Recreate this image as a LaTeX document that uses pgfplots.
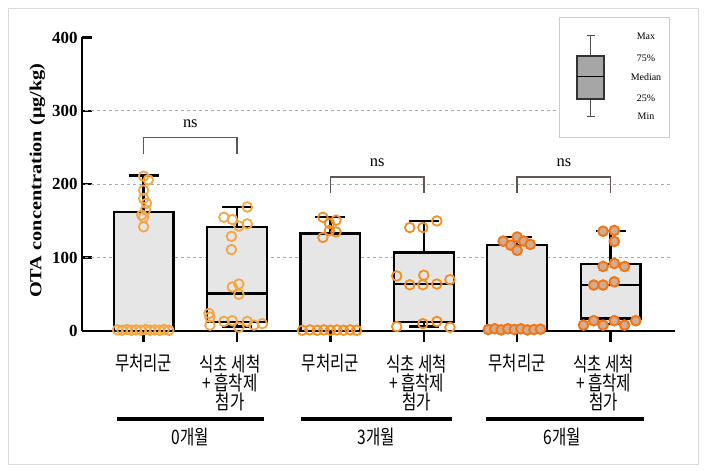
\documentclass[border=0pt]{standalone}
\usepackage{fontspec}
\setmainfont{Liberation Serif}
\newfontfamily\kr{Noto Sans CJK KR}
\usepackage{pgfplots}
\usepackage{pgfplotstable}
\pgfplotsset{compat=1.18}
\definecolor{boxgray}{HTML}{E6E6E6}
\definecolor{orA}{RGB}{246,166,66}
\definecolor{orB}{RGB}{243,144,32}
\definecolor{orC}{RGB}{240,118,24}
\definecolor{orCfill}{RGB}{210,172,145}
\definecolor{brk}{RGB}{100,85,85}
\definecolor{gridc}{RGB}{170,170,170}

% 0 months (groups 0 and 1)
\pgfplotstableread{
x y
0.00 211
0.05 206
0.00 192
0.00 180.5
0.03 174
0.02 165
-0.02 158
0.00 155
0.00 142
-0.28 1.5
-0.23 1
-0.18 2
-0.13 1
-0.08 1.5
-0.03 1
0.02 2
0.07 1
0.12 1.5
0.17 1
0.22 2
0.27 1
1.11 169
0.86 155
0.95 152
1.11 146
1.02 143
0.94 129
0.94 111
1.02 64
0.95 60
1.02 50
0.70 24
0.71 19
0.71 8
0.86 13
0.95 14
1.02 5
1.11 13
1.18 8
1.27 10
}\ptsA
% 3 months (groups 2 and 3)
\pgfplotstableread{
x y
1.92 155
2.06 151
1.99 146.5
2.06 135
1.92 127.5
1.99 137
1.70 1
1.78 1.5
1.86 1
1.93 1.5
2.00 1
2.07 1.5
2.14 1
2.21 1.5
2.28 1
3.14 150
2.85 141
2.99 141
2.71 75
3.00 76
3.28 70
2.85 63
2.99 63
3.14 64
2.71 6
2.99 10
3.14 13
3.28 5
}\ptsB
% 6 months (groups 4 and 5)
\pgfplotstableread{
x y
4.00 128
3.85 122.5
3.93 117
4.07 122.5
4.14 118
4.00 110
3.69 2
3.76 3
3.83 1.5
3.90 3
3.97 2
4.04 3
4.11 1.5
4.18 2
4.25 2.5
4.92 136
5.04 137
5.04 122
4.92 88
5.04 92
5.15 88
4.82 62.6
4.92 62.6
5.04 67
4.71 8
4.82 14
4.92 8
5.04 14
5.15 8
5.27 14
}\ptsC

\begin{document}
\begin{tikzpicture}
\path[use as bounding box] (0bp,0bp) rectangle (720bp,471bp);
\draw[line width=1bp, black!15] (8bp,462bp) rectangle (698bp,6bp);
\begin{axis}[
  at={(82bp,140bp)}, anchor=south west,
  scale only axis, width=593bp, height=293.5bp,
  xmin=-0.66, xmax=5.69, ymin=0, ymax=400,
  clip=false,
  axis lines=left,
  axis line style={-, line width=2.6bp, black},
  xtick={0,1,2,3,4,5},
  xticklabels={무처리군, {식초 세척\rule{18bp}{0pt}\\+ 흡착제\rule{18bp}{0pt}\\첨가\rule{18bp}{0pt}}, 무처리군, {식초 세척\rule{18bp}{0pt}\\+ 흡착제\rule{18bp}{0pt}\\첨가\rule{18bp}{0pt}}, 무처리군, {식초 세척\rule{18bp}{0pt}\\+ 흡착제\rule{18bp}{0pt}\\첨가\rule{18bp}{0pt}}},
  tick align=inside,
  major tick length=10bp,
  tick style={line width=2.4bp, black},
  x tick style={yshift=-11bp},
  ytick={0,100,200,300,400},
  /pgf/number format/assume math mode=true,
  yticklabel style={font=\fontsize{17}{17}\selectfont\bfseries, xshift=-1bp},
  xticklabel style={font=\kr\fontsize{20}{19.5}\selectfont, align=center, anchor=north, xscale=0.78, yshift=-20bp},
  ylabel={OTA concentration (μg/kg)},
  ylabel style={font=\fontsize{17}{17}\selectfont\bfseries, xscale=1.2, xshift=3bp},
  boxst/.style={draw=black, fill=boxgray, line width=2.3bp},
  wst/.style={draw=black, line width=2.3bp},
]
\draw[gridc, dash pattern=on 3bp off 3bp, line width=0.8bp] (axis cs:-0.63,100) -- (axis cs:5.66,100);
\draw[gridc, dash pattern=on 3bp off 3bp, line width=0.8bp] (axis cs:-0.63,200) -- (axis cs:5.66,200);
\draw[gridc, dash pattern=on 3bp off 3bp, line width=0.8bp] (axis cs:-0.63,300) -- (axis cs:5.66,300);
% group 0
\addplot[boxst] coordinates {(-0.32,0) (0.32,0) (0.32,162) (-0.32,162)} --cycle;
\addplot[wst] coordinates {(0,162) (0,212)};
\addplot[wst] coordinates {(-0.16,212) (0.16,212)};
% group 1
\addplot[boxst] coordinates {(0.68,12.6) (1.32,12.6) (1.32,142) (0.68,142)} --cycle;
\addplot[wst] coordinates {(0.68,51) (1.32,51)};
\addplot[wst] coordinates {(1,142) (1,169)};
\addplot[wst] coordinates {(0.84,169) (1.16,169)};
\addplot[wst] coordinates {(1,12.6) (1,6)};
\addplot[wst] coordinates {(0.84,6) (1.16,6)};
% group 2
\addplot[boxst] coordinates {(1.68,0) (2.32,0) (2.32,133) (1.68,133)} --cycle;
\addplot[wst] coordinates {(2,133) (2,155)};
\addplot[wst] coordinates {(1.84,155) (2.16,155)};
% group 3
\addplot[boxst] coordinates {(2.68,12) (3.32,12) (3.32,107) (2.68,107)} --cycle;
\addplot[wst] coordinates {(2.68,64) (3.32,64)};
\addplot[wst] coordinates {(3,107) (3,150)};
\addplot[wst] coordinates {(2.84,150) (3.16,150)};
\addplot[wst] coordinates {(3,12) (3,6)};
\addplot[wst] coordinates {(2.84,6) (3.16,6)};
% group 4
\addplot[boxst] coordinates {(3.68,0) (4.32,0) (4.32,117) (3.68,117)} --cycle;
\addplot[wst] coordinates {(4,117) (4,128)};
\addplot[wst] coordinates {(3.84,128) (4.16,128)};
% group 5
\addplot[boxst] coordinates {(4.68,17) (5.32,17) (5.32,91) (4.68,91)} --cycle;
\addplot[wst] coordinates {(4.68,62.6) (5.32,62.6)};
\addplot[wst] coordinates {(5,91) (5,136)};
\addplot[wst] coordinates {(4.84,136) (5.16,136)};
\addplot[wst] coordinates {(5,17) (5,10)};
\addplot[wst] coordinates {(4.84,10) (5.16,10)};

\addplot[only marks, mark=o, mark size=4.8bp, mark options={draw=orA, line width=1.8bp}] table[x=x,y=y] {\ptsA};
\addplot[only marks, mark=o, mark size=4.8bp, mark options={draw=orB, line width=1.8bp}] table[x=x,y=y] {\ptsB};
\addplot[only marks, mark=*, mark size=4.8bp, mark options={draw=orC, fill=orCfill, line width=2bp}] table[x=x,y=y] {\ptsC};

% significance brackets
\draw[brk, line width=1.5bp] (axis cs:0,241) -- (axis cs:0,264) -- (axis cs:1,264) -- (axis cs:1,241);
\node[font=\fontsize{16.5}{16.5}\selectfont] at (axis cs:0.5,283) {ns};
\draw[brk, line width=1.5bp] (axis cs:2,188) -- (axis cs:2,210) -- (axis cs:3,210) -- (axis cs:3,188);
\node[font=\fontsize{16.5}{16.5}\selectfont] at (axis cs:2.5,230) {ns};
\draw[brk, line width=1.5bp] (axis cs:4,188) -- (axis cs:4,210) -- (axis cs:5,210) -- (axis cs:5,188);
\node[font=\fontsize{16.5}{16.5}\selectfont] at (axis cs:4.5,230) {ns};

% group bars
\draw[black, line width=3.8bp] (axis cs:-0.29,-120) -- (axis cs:1.29,-120);
\draw[black, line width=3.8bp] (axis cs:1.68,-120) -- (axis cs:3.30,-120);
\draw[black, line width=3.8bp] (axis cs:3.67,-120) -- (axis cs:5.36,-120);
\node[font=\kr\fontsize{20}{20}\selectfont, xscale=0.78] at (axis cs:0.5,-144) {0개월};
\node[font=\kr\fontsize{20}{20}\selectfont, xscale=0.78] at (axis cs:2.49,-144) {3개월};
\node[font=\kr\fontsize{20}{20}\selectfont, xscale=0.78] at (axis cs:4.48,-144) {6개월};
\end{axis}

% legend key
\begin{scope}[x=1bp,y=1bp]
\draw[black!20, fill=white, line width=1bp] (559,453) rectangle (669,333);
\draw[black!70, line width=0.8bp] (590.5,435.3) -- (590.5,415) (590.5,372) -- (590.5,355);
\draw[black!70, line width=0.8bp] (586.5,435.3) -- (594.5,435.3) (586.5,355) -- (594.5,355);
\draw[black!80, fill=black!35, line width=1.2bp] (577,415) rectangle (604,372);
\draw[black, line width=1bp] (577,394) -- (604,394);
\begin{scope}[every node/.style={font=\fontsize{10}{10}\selectfont}]
\node at (646,434.3) {Max};
\node at (646,413) {75\%};
\node at (646,394) {Median};
\node at (646,372.3) {25\%};
\node at (646,355) {Min};
\end{scope}
\end{scope}
\end{tikzpicture}
\end{document}
